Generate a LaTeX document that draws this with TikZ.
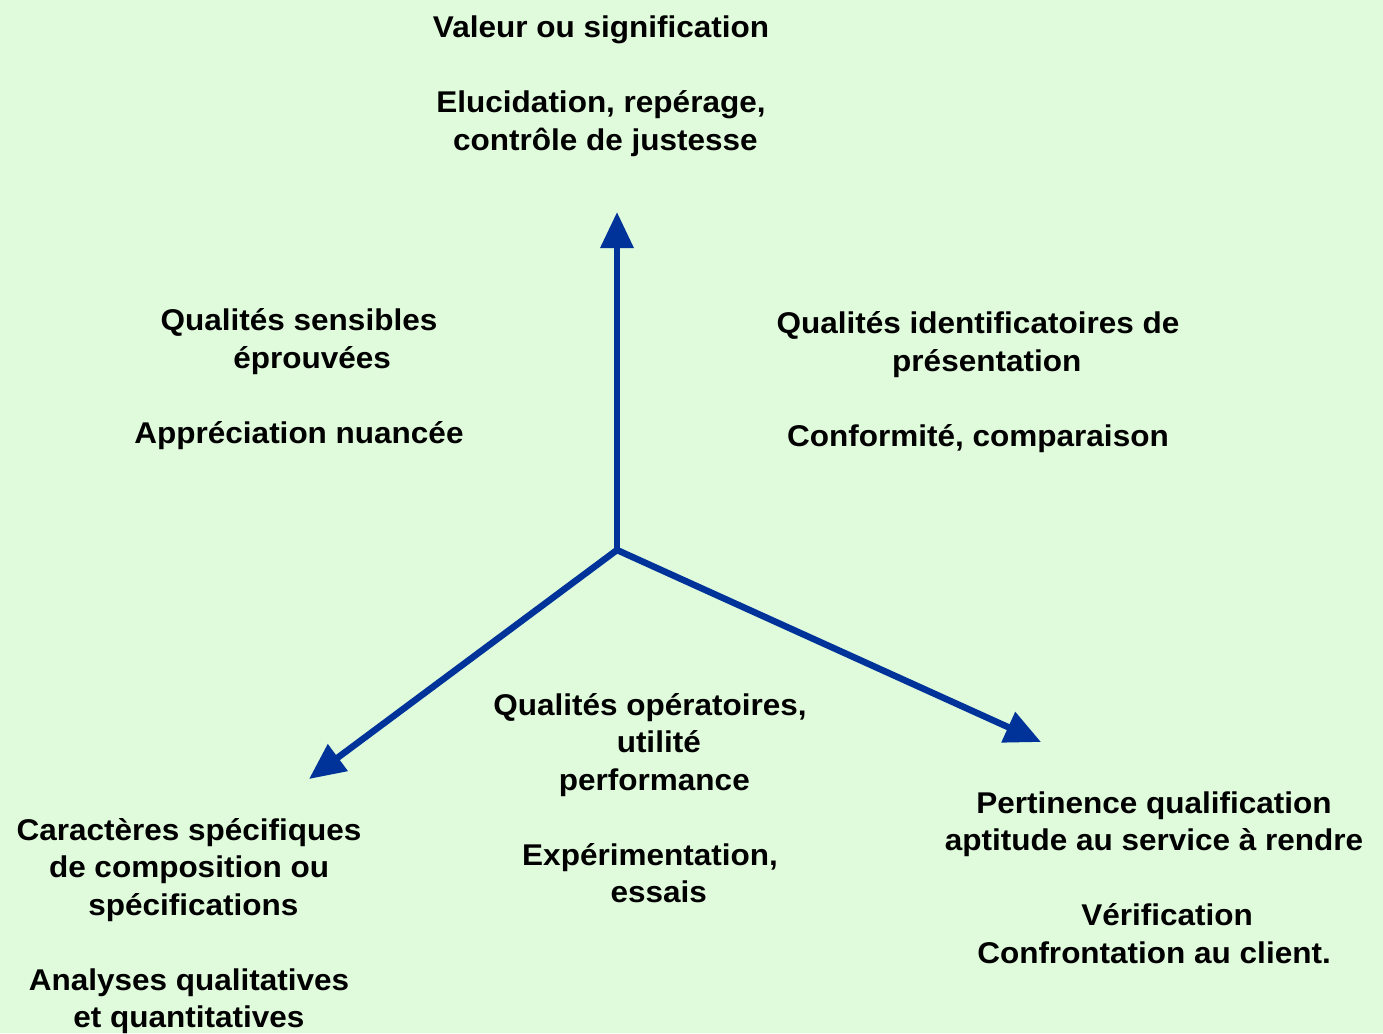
\documentclass[tikz,border=0pt]{standalone}
\usepackage{fontspec}
\setmainfont{Liberation Sans}[FakeStretch=1.05]
\usetikzlibrary{arrows.meta}
\definecolor{bggreen}{HTML}{E0FADC}
\definecolor{axisblue}{HTML}{00339A}
\tikzset{
  label/.style={align=center, font=\bfseries\fontsize{30}{37.5}\selectfont, inner sep=0pt, text=black},
  axis/.style={draw=axisblue, line width=6.5pt, -{Triangle[length=36pt,width=32pt]}}
}
\begin{document}
\begin{tikzpicture}[x=1pt,y=-1pt]
  \fill[bggreen] (0,0) rectangle (1383,1033);
  \useasboundingbox (0,0) rectangle (1383,1033);

  % origin and axis ends
  \coordinate (O) at (617,550);
  \coordinate (Top) at (617,212);
  \coordinate (Left) at (309,779);
  \coordinate (Right) at (1041,742);

  \draw[axis] (O) -- (Top);
  \draw[axis] (O) -- (Left);
  \draw[axis] (O) -- (Right);

  % text blocks
  \node[label] (tval) at (601,86) {Valeur ou signification\\ \mbox{}\\Elucidation, repérage,\\ \ contrôle de justesse};
  \node[label] (tsens) at (299,379) {Qualités sensibles\\ \ \ \ éprouvées\\ \mbox{}\\Appréciation nuancée};
  \node[label] (tident) at (978,382) {Qualités identificatoires de\\ \ \ présentation\\ \mbox{}\\Conformité, comparaison};
  \node[label] (top) at (650,798) {Qualités opératoires,\\ \ \ utilité\\ \ performance\\ \mbox{}\\Expérimentation,\\ \ \ essais};
  \node[label] (tpert) at (1154,877.5) {Pertinence qualification\\aptitude au service à rendre\\ \mbox{}\\ \ \ \ Vérification\\Confrontation au client.};
  \node[label] (tcar) at (189,926) {Caractères spécifiques\\de composition ou\\ \ spécifications\\ \mbox{}\\Analyses qualitatives\\ et quantitatives};
\end{tikzpicture}
\end{document}
